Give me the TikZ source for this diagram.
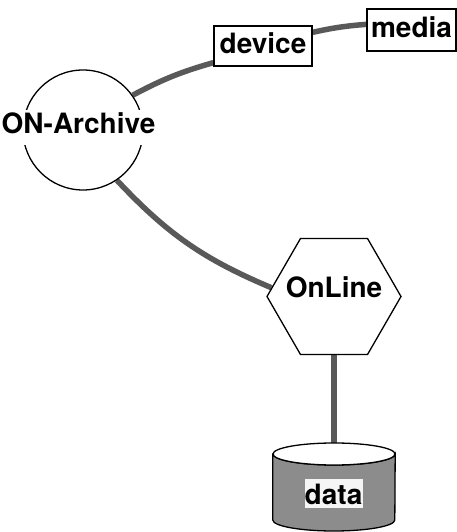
\documentclass[tikz,border=0pt]{standalone}
\usepackage{fontspec}
\setmainfont{TeX Gyre Heros}
\usetikzlibrary{shapes.geometric,backgrounds}
\begin{document}
\begin{tikzpicture}[x=1pt,y=1pt,
  every node/.style={font=\fontsize{28}{31}\selectfont\bfseries},
  outline/.style={draw=black,line width=1.3pt},
  box/.style={outline,rectangle,fill=white,inner sep=0pt,text height=20.5pt,text depth=6pt},
  link/.style={line width=5.5pt,draw=black!65},
  cylbody/.style={outline,fill=black!45},
]
\useasboundingbox (0,0) rectangle (457,532);
% ON-Archive
\node[outline,circle,minimum size=120pt,fill=white] (arch) at (83,402) {};
\node[fill=white,inner xsep=1pt,inner ysep=3pt,text depth=8pt,anchor=base] (archlabel) at (78.5,398) {ON-Archive};
% device and media
\node[box,minimum width=98pt,minimum height=40pt] (device) at (263,486) {device};
\node[box,minimum width=89pt,minimum height=42pt] (media) at (411.5,502) {media};
% OnLine
\node[outline,regular polygon,regular polygon sides=6,minimum size=134pt,inner sep=0pt,fill=white] (online) at (334,235.5) {};
\node[anchor=base] (onlinelabel) at (334,234) {OnLine};
% data cylinder
\node[minimum width=122pt,minimum height=88pt,inner sep=0pt] (cyl) at (334,45) {};
\path[cylbody] (cyl.west |- 0,78) -- (cyl.west |- 0,12)
  arc[start angle=180,end angle=360,x radius=61pt,y radius=11pt]
  -- (cyl.east |- 0,78)
  arc[start angle=0,end angle=-180,x radius=61pt,y radius=11pt] -- cycle;
\draw[outline,fill=white] (cyl.center |- 0,78) ellipse[x radius=61pt,y radius=11pt];
\node[fill=gray!8,inner sep=0pt,minimum width=58pt,minimum height=29pt] (data) at (333.5,38) {data};
% connectors
\begin{scope}[on background layer]
\draw[link] (arch.35) to[bend left=6] ([yshift=4pt]device.south west);
\draw[link] ([yshift=-7pt]device.north east) to[bend left=4] ([yshift=-16pt]media.north west);
\draw[link] (arch.-56) to[bend right=12] (online.172);
\draw[link] (online.south) -- (cyl.north);
\end{scope}
\end{tikzpicture}
\end{document}
